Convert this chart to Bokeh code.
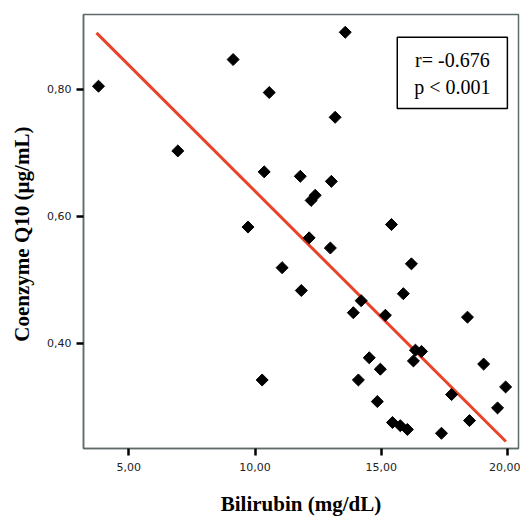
from bokeh.plotting import figure
from bokeh.models import FixedTicker, BoxAnnotation, Label, Range1d
from bokeh.embed import file_html
from bokeh.resources import INLINE

# Data
bilirubin = [3.80, 6.94, 9.13, 9.72, 10.36, 10.56, 10.28, 11.07, 11.79, 11.83,
             12.14, 12.22, 12.38, 13.02, 12.98, 13.17, 13.57, 13.89, 14.20, 15.16,
             15.87, 16.19, 15.40, 18.41, 16.35, 16.59, 16.27, 14.52, 14.96, 14.09,
             19.05, 17.78, 19.92, 14.84, 19.60, 15.44, 15.75, 16.03, 17.38, 18.49]
coq10 = [0.805, 0.703, 0.847, 0.583, 0.670, 0.795, 0.342, 0.519, 0.663, 0.483,
         0.566, 0.625, 0.633, 0.655, 0.550, 0.756, 0.890, 0.448, 0.467, 0.444,
         0.478, 0.525, 0.587, 0.441, 0.389, 0.387, 0.372, 0.377, 0.359, 0.342,
         0.367, 0.319, 0.331, 0.308, 0.298, 0.275, 0.270, 0.264, 0.258, 0.278]
fit_slope = -0.03973
fit_intercept = 1.0368
fit_x_span = [3.72, 19.93]

x_ticks = [5, 10, 15, 20]
x_tick_labels = ["5,00", "10,00", "15,00", "20,00"]
y_ticks = [0.4, 0.6, 0.8]
y_tick_labels = ["0,40", "0,60", "0,80"]
stats_lines = ["r= -0.676", "p < 0.001"]

p = figure(width=520, height=518, output_backend="svg", toolbar_location=None,
           x_range=Range1d(3.206, 20.43), y_range=Range1d(0.234, 0.918),
           min_border_left=83, min_border_right=2, min_border_top=14,
           min_border_bottom=67)
p.background_fill_color = "white"
p.border_fill_color = "white"
p.xgrid.visible = False
p.ygrid.visible = False
p.outline_line_color = "#5f6b6b"
p.outline_line_width = 1.5

fit_y = [fit_intercept + fit_slope * v for v in fit_x_span]
p.line(fit_x_span, fit_y, line_color="#e8432b", line_width=3)

p.scatter(bilirubin, coq10, marker="square", size=8.5, angle=0.7854,
          fill_color="black", line_color="black")

for ax, ticks, labels in ((p.xaxis[0], x_ticks, x_tick_labels),
                          (p.yaxis[0], y_ticks, y_tick_labels)):
    ax.ticker = FixedTicker(ticks=ticks)
    ax.major_label_overrides = {t: l for t, l in zip(ticks, labels)}
    ax.minor_tick_line_color = None
    ax.major_tick_in = 0
    ax.major_tick_out = 7
    ax.major_tick_line_color = "black"
    ax.major_tick_line_width = 2.5
    ax.axis_line_color = "#5f6b6b"
    ax.axis_line_width = 1.5
    ax.major_label_text_font = "DejaVu Sans"
    ax.major_label_text_font_size = "11px"
    ax.major_label_text_color = "#222222"
    ax.axis_label_text_font = "Liberation Serif"
    ax.axis_label_text_font_style = "bold"
    ax.axis_label_text_font_size = "21px"
    ax.axis_label_text_color = "black"

p.xaxis[0].axis_label = "Bilirubin (mg/dL)"
p.yaxis[0].axis_label = "Coenzyme Q10  (\u00b5g/mL)"
p.xaxis[0].major_label_standoff = 7
p.xaxis[0].axis_label_standoff = 18
p.yaxis[0].major_label_standoff = 5
p.yaxis[0].axis_label_standoff = 10

box = BoxAnnotation(left=15.63, right=19.99, top=0.882, bottom=0.770,
                    fill_color="white", fill_alpha=1.0,
                    line_color="black", line_alpha=1.0, line_width=1.5)
p.add_layout(box)
for txt, yy in zip(stats_lines, [0.8459, 0.804]):
    p.add_layout(Label(x=17.81, y=yy, text=txt, text_align="center",
                       text_baseline="middle", text_font="Liberation Serif",
                       text_font_size="20px", text_color="black"))

open("out.html", "w").write(file_html(p, INLINE))
